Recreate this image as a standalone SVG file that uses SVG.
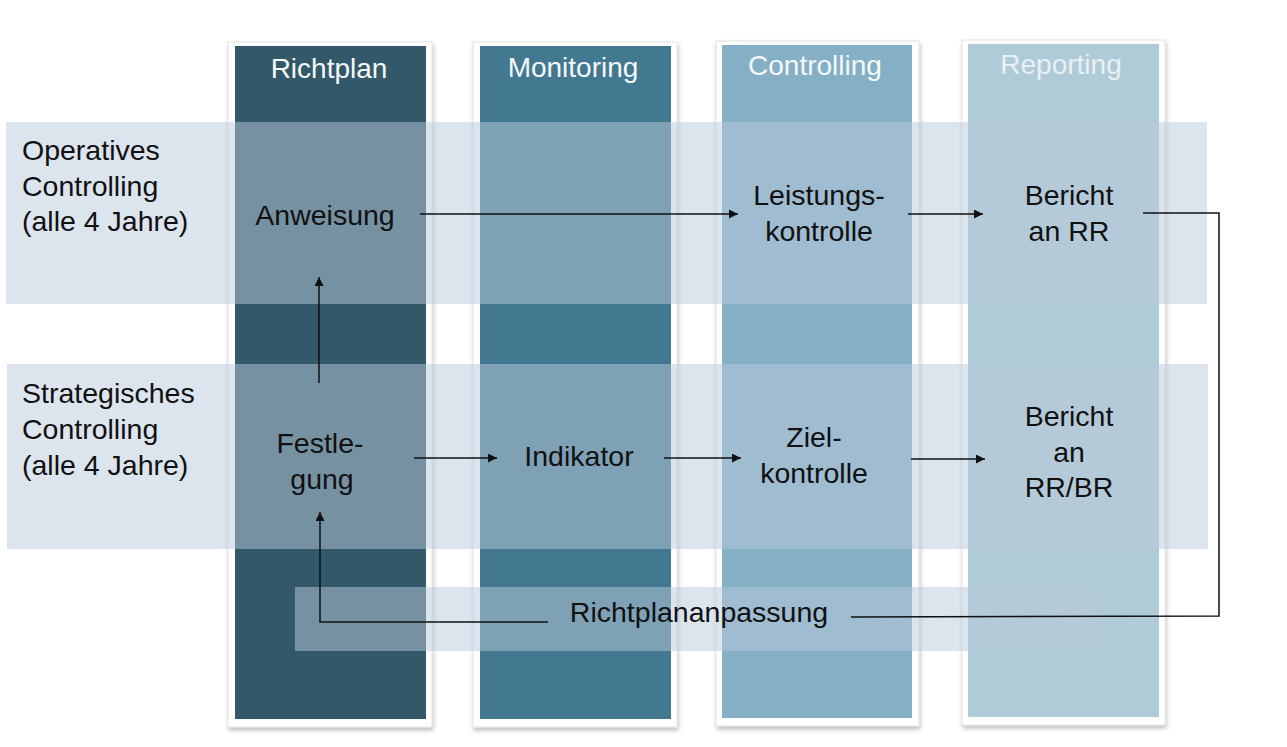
<svg xmlns="http://www.w3.org/2000/svg" width="1287" height="747" viewBox="0 0 1287 747">
<defs>
<style>
.frame{fill:#ffffff;stroke:#e2e2e2;stroke-width:1}
.band{fill:#b9cadb;fill-opacity:0.5}
.hdr{font-family:"Liberation Sans",Arial,sans-serif;font-size:28px;fill:#f4f8fa;text-anchor:middle}
.lbl{font-family:"Liberation Sans",Arial,sans-serif;font-size:28.5px;fill:#111111}
.node{font-family:"Liberation Sans",Arial,sans-serif;font-size:28.5px;fill:#111111;text-anchor:middle}
.con{fill:none;stroke:#111111;stroke-width:1.5}
</style>
<marker id="ah" viewBox="0 0 10 10" refX="10" refY="5" markerWidth="11" markerHeight="9" markerUnits="userSpaceOnUse" orient="auto">
<path d="M0,0 L10,5 L0,10 Z" fill="#111111"/>
</marker>
<filter id="sh" x="-10%" y="-5%" width="120%" height="110%">
<feDropShadow dx="1" dy="3" stdDeviation="2" flood-color="#000000" flood-opacity="0.25"/>
</filter>
</defs>
<rect width="1287" height="747" fill="#ffffff"/>

<g id="col-richtplan">
<rect class="frame" x="228" y="42" width="204" height="685" filter="url(#sh)"/>
<rect x="235" y="46" width="191" height="673" fill="#325869"/>
<text class="hdr" x="329" y="78">Richtplan</text>
</g>
<g id="col-monitoring">
<rect class="frame" x="473" y="42" width="204" height="685" filter="url(#sh)"/>
<rect x="480" y="46" width="191" height="673" fill="#437891"/>
<text class="hdr" x="573" y="77">Monitoring</text>
</g>
<g id="col-controlling">
<rect class="frame" x="716" y="41" width="203" height="685" filter="url(#sh)"/>
<rect x="722" y="45" width="190" height="673" fill="#85afc4"/>
<text class="hdr" x="815" y="75">Controlling</text>
</g>
<g id="col-reporting">
<rect class="frame" x="962" y="40" width="203" height="685" filter="url(#sh)"/>
<rect x="968" y="44" width="191" height="673" fill="#afcbd7"/>
<text class="hdr" x="1061" y="74" fill-opacity="0.85">Reporting</text>
</g>

<g id="band-operativ">
<rect class="band" x="6" y="122" width="1201" height="182"/>
<text class="lbl" x="22" y="160">Operatives</text>
<text class="lbl" x="22" y="196">Controlling</text>
<text class="lbl" x="22" y="231">(alle 4 Jahre)</text>
</g>
<g id="band-strategisch">
<rect class="band" x="7" y="364" width="1201" height="185"/>
<text class="lbl" x="22" y="403">Strategisches</text>
<text class="lbl" x="22" y="439">Controlling</text>
<text class="lbl" x="22" y="475">(alle 4 Jahre)</text>
</g>
<g id="band-anpassung">
<rect class="band" x="295" y="587" width="805" height="64"/>
<text class="node" x="699" y="622">Richtplananpassung</text>
</g>

<g id="node-anweisung"><text class="node" x="325" y="225">Anweisung</text></g>
<g id="node-leistungskontrolle"><text class="node" x="819" y="205">Leistungs-</text><text class="node" x="819" y="241">kontrolle</text></g>
<g id="node-bericht-rr"><text class="node" x="1069" y="205">Bericht</text><text class="node" x="1069" y="241">an RR</text></g>
<g id="node-festlegung"><text class="node" x="320" y="453">Festle-</text><text class="node" x="322" y="489">gung</text></g>
<g id="node-indikator"><text class="node" x="579" y="466">Indikator</text></g>
<g id="node-zielkontrolle"><text class="node" x="814" y="447">Ziel-</text><text class="node" x="814" y="483">kontrolle</text></g>
<g id="node-bericht-rrbr"><text class="node" x="1069" y="426">Bericht</text><text class="node" x="1069" y="462">an</text><text class="node" x="1069" y="497">RR/BR</text></g>

<g id="connectors">
<path class="con" d="M420,214 H738" marker-end="url(#ah)"/>
<path class="con" d="M908,214 H983" marker-end="url(#ah)"/>
<path class="con" d="M414,458 H497" marker-end="url(#ah)"/>
<path class="con" d="M664,458 H741" marker-end="url(#ah)"/>
<path class="con" d="M911,459 H985" marker-end="url(#ah)"/>
<path class="con" d="M319,383 V277" marker-end="url(#ah)"/>
<path class="con" d="M1143,213 H1219 V616 L851,617"/>
<path class="con" d="M548,622 H320 V512" marker-end="url(#ah)"/>
</g>
</svg>
